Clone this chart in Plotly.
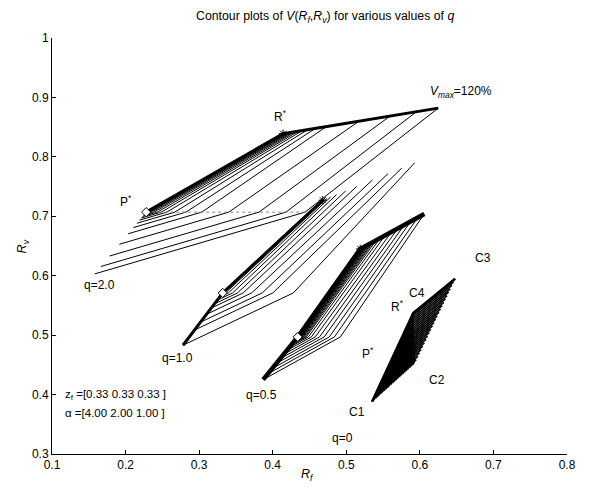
import plotly.graph_objects as go

# ---- data (R_f, R_v) ----
# vertices of each region: C1 (lower tip), P* (bend on left edge), C2 (lower-right corner),
# C4 = R* (upper-left corner), C3 (upper tip)
q20_rf = [0.158, 0.228, 0.444, 0.414, 0.625]
q20_rv = [0.603, 0.707, 0.707, 0.839, 0.882]
q10_rf = [0.278, 0.332, 0.428, 0.468, 0.593]
q10_rv = [0.483, 0.571, 0.571, 0.727, 0.790]
q05_rf = [0.387, 0.434, 0.492, 0.519, 0.606]
q05_rv = [0.425, 0.497, 0.497, 0.645, 0.704]
# q=0 region corners C1, C2, C3, C4
q00_rf = [0.535, 0.593, 0.648, 0.591]
q00_rv = [0.388, 0.453, 0.595, 0.537]

# contour levels: fraction from the inner (thick) edge to the outer boundary
q20_low = [1.0, 0.88, 0.71, 0.52, 0.35, 0.25, 0.18, 0.13, 0.095, 0.07, 0.05, 0.035, 0.024, 0.015, 0.008, 0.003, 0.0]
q20_top = [1.0, 0.86, 0.69, 0.49, 0.28, 0.21, 0.16, 0.125, 0.10, 0.08, 0.062, 0.047, 0.034, 0.023, 0.013, 0.005, 0.0]
q10_low = [1.0, 0.71, 0.56, 0.41, 0.29, 0.21, 0.14, 0.08, 0.04, 0.015, 0.0]
q10_top = [1.0, 0.86, 0.71, 0.54, 0.37, 0.25, 0.15, 0.085, 0.045, 0.017, 0.0]
q05_low = [1.0, 0.86, 0.74, 0.62, 0.51, 0.41, 0.32, 0.25, 0.20, 0.17, 0.14, 0.12, 0.10, 0.085, 0.07, 0.055, 0.04, 0.025, 0.01, 0.0]
q05_top = [1.0, 0.90, 0.79, 0.69, 0.59, 0.49, 0.39, 0.31, 0.25, 0.21, 0.18, 0.15, 0.125, 0.105, 0.085, 0.065, 0.045, 0.028, 0.012, 0.0]
q00_lev = [0.0, 0.04, 0.08, 0.12, 0.16, 0.2, 0.24, 0.28, 0.32, 0.36, 0.4, 0.44, 0.48, 0.52, 0.56,
           0.6, 0.64, 0.68, 0.72, 0.76, 0.8, 0.84, 0.88, 0.92, 0.96]

x_ticks = [0.1, 0.2, 0.3, 0.4, 0.5, 0.6, 0.7, 0.8]
x_ticktext = ["0.1", "0.2", "0.3", "0.4", "0.5", "0.6", "0.7", "0.8"]
y_ticks = [0.3, 0.4, 0.5, 0.6, 0.7, 0.8, 0.9, 1.0]
y_ticktext = ["0.3", "0.4", "0.5", "0.6", "0.7", "0.8", "0.9", "1"]

# text labels (text, R_f, R_v)
lab_text = ["q=2.0", "q=1.0", "q=0.5", "q=0", "C1", "C2", "C3", "C4",
            "P<sup>*</sup>", "R<sup>*</sup>", "R<sup>*</sup>", "P<sup>*</sup>"]
lab_rf = [0.165, 0.270, 0.385, 0.495, 0.515, 0.623, 0.686, 0.596, 0.201, 0.410, 0.570, 0.530]
lab_rv = [0.584, 0.462, 0.399, 0.327, 0.371, 0.425, 0.630, 0.571, 0.726, 0.869, 0.549, 0.470]

FONT = "Liberation Sans, Arial, sans-serif"


def chevrons(rf, rv, low, top):
    c1, p, c2, c4, c3 = list(zip(rf, rv))
    xs, ys = [], []
    for a, c in zip(low, top):
        pts = [(p[0] + a * (c1[0] - p[0]), p[1] + a * (c1[1] - p[1])),
               (p[0] + a * (c2[0] - p[0]), p[1] + a * (c2[1] - p[1])),
               (c4[0] + c * (c3[0] - c4[0]), c4[1] + c * (c3[1] - c4[1]))]
        for x, y in pts:
            xs.append(x)
            ys.append(y)
        xs.append(None)
        ys.append(None)
    return xs, ys


def ells(rf, rv, lev):
    c1, c2, c3, c4 = list(zip(rf, rv))
    xs, ys = [], []
    for t in lev:
        pts = [(c1[0] + t * (c2[0] - c1[0]), c1[1] + t * (c2[1] - c1[1])),
               (c4[0] + t * (c2[0] - c4[0]), c4[1] + t * (c2[1] - c4[1])),
               (c3[0] + t * (c2[0] - c3[0]), c3[1] + t * (c2[1] - c3[1]))]
        for x, y in pts:
            xs.append(x)
            ys.append(y)
        xs.append(None)
        ys.append(None)
    return xs, ys


fig = go.Figure()

line_style = dict(color="black", width=1)
for rf, rv, lo, tp in [(q20_rf, q20_rv, q20_low, q20_top),
                       (q10_rf, q10_rv, q10_low, q10_top),
                       (q05_rf, q05_rv, q05_low, q05_top)]:
    xs, ys = chevrons(rf, rv, lo, tp)
    fig.add_trace(go.Scatter(x=xs, y=ys, mode="lines", line=line_style,
                             hoverinfo="skip", showlegend=False))

xs, ys = ells(q00_rf, q00_rv, q00_lev)
fig.add_trace(go.Scatter(x=xs, y=ys, mode="lines", line=dict(color="black", width=1.6),
                         hoverinfo="skip", showlegend=False))

# thick (dense) edges
edge_specs = [(q20_rf, q20_rv, [1, 3, 4], 3.0),
              (q10_rf, q10_rv, [0, 1, 3], 3.0),
              (q05_rf, q05_rv, [0, 1, 3, 4], 4.5),
              (q00_rf, q00_rv, [0, 3, 2], 2.5)]
for rf, rv, idx, w in edge_specs:
    fig.add_trace(go.Scatter(x=[rf[i] for i in idx], y=[rv[i] for i in idx], mode="lines",
                             line=dict(color="black", width=w), hoverinfo="skip",
                             showlegend=False))

# dotted bend line for q=2.0
fig.add_trace(go.Scatter(x=[q20_rf[1], q20_rf[2]], y=[q20_rv[1], q20_rv[2]], mode="lines",
                         line=dict(color="#888888", width=1, dash="dot"),
                         hoverinfo="skip", showlegend=False))

# P* (diamond) and R* (star) markers
fig.add_trace(go.Scatter(x=[q20_rf[1], q10_rf[1], q05_rf[1]], y=[q20_rv[1], q10_rv[1], q05_rv[1]],
                         mode="markers",
                         marker=dict(symbol="diamond", size=7, color="white",
                                     line=dict(color="black", width=1)),
                         hoverinfo="skip", showlegend=False))
fig.add_trace(go.Scatter(x=[q20_rf[3], q10_rf[3], q05_rf[3]], y=[q20_rv[3], q10_rv[3], q05_rv[3]],
                         mode="markers",
                         marker=dict(symbol="asterisk-open", size=7, color="black",
                                     line=dict(color="black", width=1)),
                         hoverinfo="skip", showlegend=False))

annotations = []
for t, x, y in zip(lab_text, lab_rf, lab_rv):
    annotations.append(dict(x=x, y=y, xref="x", yref="y", text=t, showarrow=False,
                            font=dict(family=FONT, size=12, color="black")))
annotations.append(dict(x=0.611, y=0.909, xref="x", yref="y", xanchor="left",
                        text="<i>V</i><sub><i>max</i></sub>=120%", showarrow=False,
                        font=dict(family=FONT, size=12, color="black")))
annotations.append(dict(x=0.115, y=0.399, xref="x", yref="y", xanchor="left",
                        text="z<sub>f</sub> =[0.33 0.33 0.33 ]", showarrow=False,
                        font=dict(family=FONT, size=11.5, color="black")))
annotations.append(dict(x=0.115, y=0.369, xref="x", yref="y", xanchor="left",
                        text="\u03b1 =[4.00 2.00 1.00 ]", showarrow=False,
                        font=dict(family=FONT, size=11.5, color="black")))
annotations.append(dict(x=0.53, y=1.075, xref="paper", yref="paper",
                        text="Contour plots of <i>V</i>(<i>R</i><sub><i>f</i></sub>,<i>R</i><sub><i>v</i></sub>) for various values of <i>q</i>",
                        showarrow=False, font=dict(family=FONT, size=12.3, color="black")))
annotations.append(dict(x=0.497, y=-0.075, xref="paper", yref="paper",
                        text="<i>R</i><sub><i>f</i></sub>", showarrow=False,
                        font=dict(family=FONT, size=12.5, color="black")))
annotations.append(dict(x=-0.075, y=0.5, xref="paper", yref="paper", textangle=-90,
                        text="<i>R</i><sub><i>v</i></sub>", showarrow=False,
                        font=dict(family=FONT, size=12.5, color="black")))

fig.update_layout(
    width=610, height=489,
    margin=dict(l=52, r=43, t=38, b=35),
    paper_bgcolor="white", plot_bgcolor="white",
    showlegend=False,
    annotations=annotations,
    xaxis=dict(range=[0.1, 0.8], tickvals=x_ticks, ticktext=x_ticktext,
               ticks="inside", ticklen=4, tickcolor="black", showline=True,
               linecolor="black", linewidth=1, showgrid=False, zeroline=False,
               mirror=False, tickfont=dict(family=FONT, size=12, color="black")),
    yaxis=dict(range=[0.3, 1.0], tickvals=y_ticks, ticktext=y_ticktext,
               ticks="inside", ticklen=4, tickcolor="black", showline=True,
               linecolor="black", linewidth=1, showgrid=False, zeroline=False,
               mirror=False, tickfont=dict(family=FONT, size=12, color="black")),
)

fig.write_html("out.html")
